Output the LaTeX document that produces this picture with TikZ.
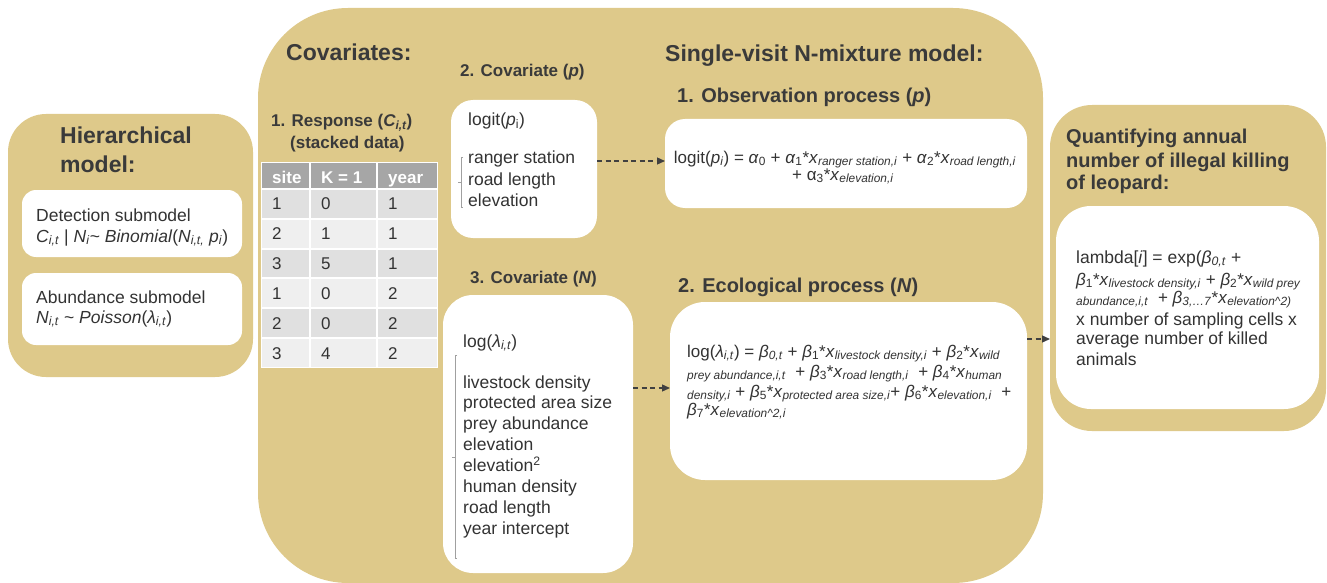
\documentclass[tikz,border=0pt]{standalone}
\usepackage{fontspec}
\setmainfont{Liberation Sans}
\usetikzlibrary{arrows.meta}
\definecolor{tan}{HTML}{DEC98A}
\definecolor{txt}{HTML}{333333}
\definecolor{ttlc}{HTML}{3A3A3A}
\definecolor{hdr}{HTML}{A6A6A6}
\definecolor{rowa}{HTML}{E0E0E0}
\definecolor{rowb}{HTML}{EFEFEF}
\definecolor{brk}{HTML}{A0A0A0}
\definecolor{arrc}{HTML}{404040}
\newcommand{\sbi}[1]{\textsubscript{\textit{#1}}}
\newcommand{\sbu}[1]{\textsubscript{#1}}
\begin{document}
\begin{tikzpicture}[x=1pt,y=-1pt,
  panel/.style={fill=tan, draw=none, inner sep=0pt, outer sep=0pt},
  wbox/.style={fill=white, draw=none, inner sep=0pt, outer sep=0pt},
  body/.style={font=\fontsize{17.5}{21}\selectfont, text=txt, inner sep=0pt, anchor=base west},
  frm/.style={font=\fontsize{17}{21}\selectfont, text=txt, inner sep=0pt, anchor=base west},
  ttl/.style={font=\fontsize{23}{28}\selectfont\bfseries, text=ttlc, inner sep=0pt, anchor=base west},
  sttl/.style={font=\fontsize{20}{24}\selectfont\bfseries, text=ttlc, inner sep=0pt, anchor=base west},
  cttl/.style={font=\fontsize{17}{20}\selectfont\bfseries, text=ttlc, inner sep=0pt, anchor=base west},
  cell/.style={font=\fontsize{17}{20}\selectfont, text=txt, inner sep=0pt, anchor=base west},
  hcell/.style={font=\fontsize{17}{20}\selectfont\bfseries, text=white, inner sep=0pt, anchor=base west},
  arr/.style={draw=arrc, line width=1.3pt, dash pattern=on 5pt off 3.5pt, -{Triangle[length=8pt,width=7pt]}},
  brack/.style={draw=brk, line width=0.8pt}
]
\useasboundingbox (0,0) rectangle (1327,583);

% panels
\node[panel, rounded corners=90pt, minimum width=785pt, minimum height=575pt] (main) at (650.5,295.5) {};
\node[panel, rounded corners=38pt, minimum width=245pt, minimum height=263pt] (hier) at (130.5,245.5) {};
\node[panel, rounded corners=42pt, minimum width=276pt, minimum height=326pt] (quant) at (1188,268) {};

% white boxes
\node[wbox, rounded corners=14pt, minimum width=220pt, minimum height=67pt] (det) at (132,223.5) {};
\node[wbox, rounded corners=14pt, minimum width=220pt, minimum height=72pt] (abu) at (132,309) {};
\node[wbox, rounded corners=22pt, minimum width=146pt, minimum height=138pt] (covp) at (524,169) {};
\node[wbox, rounded corners=30pt, minimum width=190pt, minimum height=278pt] (covn) at (538,434) {};
\node[wbox, rounded corners=20pt, minimum width=362pt, minimum height=89pt] (obs) at (846,163.5) {};
\node[wbox, rounded corners=35pt, minimum width=357pt, minimum height=178pt] (eco) at (848.5,391) {};
\node[wbox, rounded corners=35pt, minimum width=263pt, minimum height=203pt] (qw) at (1187.5,307.5) {};

% titles
\node[ttl] (th1) at (60,143) {Hierarchical};
\node[ttl] (th2) at (60,172) {model:};
\node[ttl] (tcov) at (286,61) {Covariates:};
\node[ttl] (tsv) at (665,62) {Single-visit N-mixture model:};
\node[sttl] (tobs) at (677,103) {1. Observation process (\textit{p})};
\node[sttl] (teco) at (678,292) {2. Ecological process (\textit{N})};
\node[cttl] (tcp) at (460,77) {2. Covariate (\textit{p})};
\node[cttl] (tcn) at (470,283) {3. Covariate (\textit{N})};
\node[cttl] (tr1) at (271,127) {1. Response (\textit{C\sbu{i,t}})};
\node[cttl] (tr2) at (290,148) {(stacked data)};
\node[sttl] (tq1) at (1066,143) {Quantifying annual};
\node[sttl] (tq2) at (1066,167) {number of illegal killing};
\node[sttl] (tq3) at (1066,189) {of leopard:};

% hierarchical text
\node[body] (d1) at (36,221) {Detection submodel};
\node[body] (d2) at (36,242) {\textit{C}\sbi{i,t} | \textit{N}\sbi{i}\textasciitilde{} \textit{Binomial}(\textit{N}\sbi{i,t,} \textit{p}\sbi{i})};
\node[body] (a1) at (36,303) {Abundance submodel};
\node[body] (a2) at (36,323) {\textit{N}\sbi{i,t} \textasciitilde{} \textit{Poisson}(\textit{λ}\sbi{i,t})};

% table
\fill[white] (261,162) rectangle (438,368);
\fill[hdr] (262,163) rectangle (309,188);
\fill[hdr] (311,163) rectangle (376,188);
\fill[hdr] (378,163) rectangle (437,188);
\node[hcell] (h1) at (272,183) {site};
\node[hcell] (h2) at (321,183) {K = 1};
\node[hcell] (h3) at (388,183) {year};
\foreach \va/\vb/\vc [count=\r] in {1/0/1,2/1/1,3/5/1,1/0/2,2/0/2,3/4/2}{
  \pgfmathsetmacro{\yt}{190+(\r-1)*29.83}
  \pgfmathsetmacro{\yb}{188+\r*29.83}
  \pgfmathsetmacro{\yc}{(\yt+\yb)/2+6}
  \ifodd\r \def\rc{rowa}\else\def\rc{rowb}\fi
  \fill[\rc] (262,\yt) rectangle (309,\yb);
  \fill[\rc] (311,\yt) rectangle (376,\yb);
  \fill[\rc] (378,\yt) rectangle (437,\yb);
  \node[cell] at (272,\yc) {\va};
  \node[cell] at (321,\yc) {\vb};
  \node[cell] at (388,\yc) {\vc};
}

% covariate p
\node[body] (cp0) at (468,126) {logit(\textit{p}\sbu{i})};
\node[body] (cp1) at (468,164) {ranger station};
\node[body] (cp2) at (468,185) {road length};
\node[body] (cp3) at (468,206) {elevation};
\draw[brack] (463,157) -- (461,157) -- (461,207) -- (463,207);
\draw[brack] (461,182) -- (458,182);

% covariate N
\node[body] (cn0) at (463,347) {log(\textit{λ}\sbi{i,t})};
\foreach \t [count=\k] in {livestock density,protected area size,prey abundance,elevation,elevation\textsuperscript{2},human density,road length,year intercept}{
  \pgfmathsetmacro{\yy}{388+(\k-1)*20.9}
  \node[body] at (463,\yy) {\t};
}
\draw[brack] (457,355) -- (455,355) -- (455,558) -- (457,558);
\draw[brack] (455,457) -- (452,457);

% observation formula
\node[frm, anchor=base] (of1) at (845,163) {logit(\textit{p}\sbi{i}) = \textit{α}\sbu{0} + \textit{α}\sbu{1}*\textit{x}\sbi{ranger station,i} + \textit{α}\sbu{2}*\textit{x}\sbi{road length,i}};
\node[frm, anchor=base] (of2) at (843,180) {+ α\sbu{3}*\textit{x}\sbi{elevation,i}};

% ecological formula
\node[frm] (e1) at (687,357) {log(\textit{λ}\sbi{i,t}) = \textit{β}\sbi{0,t} + \textit{β}\sbu{1}*\textit{x}\sbi{livestock density,i} + \textit{β}\sbu{2}*\textit{x}\sbi{wild}};
\node[frm] (e2) at (687,377) {\sbi{prey abundance,i,t} \ + \textit{β}\sbu{3}*\textit{x}\sbi{road length,i} \ + \textit{β}\sbu{4}*\textit{x}\sbi{human}};
\node[frm] (e3) at (687,397) {\sbi{density,i} + \textit{β}\sbu{5}*\textit{x}\sbi{protected area size,i}+ \textit{β}\sbu{6}*\textit{x}\sbi{elevation,i} \ +};
\node[frm] (e4) at (687,415) {\textit{β}\sbu{7}*\textit{x}\sbi{elevation\textasciicircum 2,i}};

% quantifying text
\node[body] (q1) at (1076,263) {lambda[\textit{i}] = exp(\textit{β}\sbi{0,t} +};
\node[frm] (q2) at (1076,285) {\textit{β}\sbu{1}*\textit{x}\sbi{livestock density,i} + \textit{β}\sbu{2}*\textit{x}\sbi{wild prey}};
\node[frm] (q3) at (1076,303) {\sbi{abundance,i,t} \ + \textit{β}\sbi{3,…7}*\textit{x}\sbi{elevation\textasciicircum 2)}};
\node[body] (q4) at (1076,325) {x number of sampling cells x};
\node[body] (q5) at (1076,344) {average number of killed};
\node[body] (q6) at (1076,365) {animals};

% connectors
\draw[arr] (covp.east |- 0,161) -- (obs.west |- 0,161);
\draw[arr] (covn.east |- 0,388) -- (eco.west |- 0,388);
\draw[arr] (eco.east |- 0,339) -- (quant.west |- 0,339);
\end{tikzpicture}
\end{document}
